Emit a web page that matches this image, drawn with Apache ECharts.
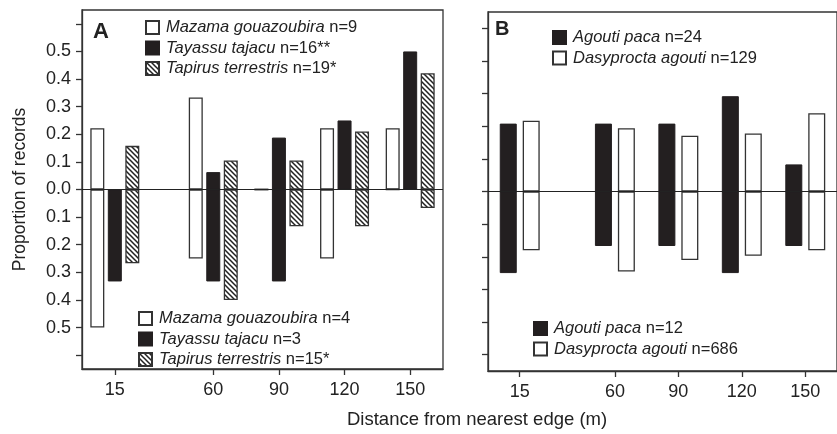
<!DOCTYPE html>
<html>
<head>
  <meta charset="UTF-8" />
  <title></title>
  <style type="text/css">
    * { margin: 0; padding: 0; }
    body { background: #fff; }
    #main { width: 837px; height: 434px; }
  </style>
</head>
<body>
  <div id="main"></div>
</body>
<script src="https://cdn.jsdelivr.net/npm/echarts@6/dist/echarts.min.js"></script>
<script type="text/javascript">
  // distance classes (m)
  let distances = [15, 60, 90, 120, 150]
  let yTicks = [-0.6, -0.5, -0.4, -0.3, -0.2, -0.1, 0, 0.1, 0.2, 0.3, 0.4, 0.5, 0.6]
  let yLabels = [-0.5, -0.4, -0.3, -0.2, -0.1, 0, 0.1, 0.2, 0.3, 0.4, 0.5]
  let yTicksB = [-0.5, -0.4, -0.3, -0.2, -0.1, 0, 0.1, 0.2, 0.3, 0.4, 0.5]

  // panel A, upper (above 0) and lower (below 0) proportions
  let mazamaUp = [0.222, 0.333, 0, 0.222, 0.222]
  let tayassuUp = [0, 0.063, 0.188, 0.25, 0.5]
  let tapirusUp = [0.158, 0.105, 0.105, 0.21, 0.421]
  let mazamaDown = [0.5, 0.25, 0, 0.25, 0]
  let tayassuDown = [0.333, 0.333, 0.333, 0, 0]
  let tapirusDown = [0.267, 0.4, 0.133, 0.133, 0.067]

  // panel B
  let pacaUp = [0.208, 0.208, 0.208, 0.292, 0.083]
  let dasyUp = [0.217, 0.194, 0.171, 0.178, 0.24]
  let pacaDown = [0.25, 0.167, 0.167, 0.25, 0.167]
  let dasyDown = [0.18, 0.245, 0.21, 0.197, 0.18]

  let font = 'Liberation Sans, Arial, sans-serif'
  let ink = '#222'

  // hatch pattern  \\\\
  function hatch() {
    let s = 5
    let c = document.createElement('canvas')
    c.width = s; c.height = s
    let ctx = c.getContext('2d')
    ctx.fillStyle = '#fff'
    ctx.fillRect(0, 0, s, s)
    ctx.strokeStyle = '#222'
    ctx.lineWidth = 1.5
    ctx.beginPath()
    ctx.moveTo(0, 0); ctx.lineTo(s, s)
    ctx.moveTo(-1, s - 1); ctx.lineTo(1, s + 1)
    ctx.moveTo(s - 1, -1); ctx.lineTo(s + 1, 1)
    ctx.stroke()
    return c
  }

  let styles = {
    white: { color: '#fff', borderColor: '#333', borderWidth: 1.3 },
    black: { color: '#231f20', borderColor: '#231f20', borderWidth: 1 },
    hatch: { color: { image: hatch(), repeat: 'repeat' }, borderColor: '#333', borderWidth: 1.3 }
  }

  function pairs(vals, sign) {
    return distances.map((d, i) => [d, sign * vals[i]])
  }

  function bar(name, vals, sign, style, stack, grid, w, gap) {
    return {
      type: 'bar',
      name: name,
      xAxisIndex: grid,
      yAxisIndex: grid,
      stack: stack,
      barWidth: w,
      barGap: gap,
      itemStyle: style,
      data: pairs(vals, sign)
    }
  }

  function legendFormat(name) {
    let i = name.indexOf(' n=')
    return '{a|' + name.slice(0, i) + '}{b|' + name.slice(i) + '}'
  }

  function legend(names, left, top) {
    return {
      data: names,
      orient: 'vertical',
      left: left,
      top: top,
      icon: 'rect',
      itemWidth: 13,
      itemHeight: 13,
      itemGap: 3.5,
      selectedMode: false,
      formatter: legendFormat,
      textStyle: {
        rich: {
          a: { fontFamily: font, fontSize: 16.5, fontStyle: 'italic', color: ink, padding: [0, 0, 0, 2] },
          b: { fontFamily: font, fontSize: 16.5, color: ink }
        }
      }
    }
  }

  let xAxisBase = {
    type: 'value',
    min: 0,
    max: 165,
    axisLine: { show: true, onZero: false, lineStyle: { color: '#333', width: 1.3 } },
    axisTick: { show: true, length: 6, customValues: distances, lineStyle: { color: '#333', width: 1.3 } },
    axisLabel: { customValues: distances, margin: 12, fontFamily: font, fontSize: 18, color: ink },
    splitLine: { show: false }
  }

  function yAxis(labels, ticks, range, name) {
    return {
      type: 'value',
      min: -range,
      max: range,
      name: name,
      nameLocation: 'middle',
      nameGap: 53,
      nameTextStyle: { fontFamily: font, fontSize: 17.5, color: ink },
      axisLine: { show: true, lineStyle: { color: '#333', width: 1.3 } },
      axisTick: { show: true, length: 6, customValues: ticks, lineStyle: { color: '#333', width: 1.3 } },
      axisLabel: {
        show: labels.length > 0,
        customValues: labels,
        margin: 11,
        fontFamily: font,
        fontSize: 18,
        color: ink,
        formatter: v => Math.abs(v).toFixed(1)
      },
      splitLine: { show: false }
    }
  }

  let zeroLine = {
    silent: true,
    symbol: 'none',
    label: { show: false },
    lineStyle: { color: '#222', width: 1, type: 'solid' },
    data: [{ yAxis: 0 }]
  }

  let namesA = ['Mazama gouazoubira n=9', 'Tayassu tajacu n=16**', 'Tapirus terrestris n=19*']
  let namesA2 = ['Mazama gouazoubira n=4', 'Tayassu tajacu n=3', 'Tapirus terrestris n=15*']
  let namesB = ['Agouti paca n=24', 'Dasyprocta agouti n=129']
  let namesB2 = ['Agouti paca n=12', 'Dasyprocta agouti n=686']

  let series = [
    bar(namesA[0], mazamaUp, 1, styles.white, 'maz', 0, 14, '25%'),
    bar(namesA[1], tayassuUp, 1, styles.black, 'tay', 0, 14, '25%'),
    bar(namesA[2], tapirusUp, 1, styles.hatch, 'tap', 0, 14, '25%'),
    bar(namesA2[0], mazamaDown, -1, styles.white, 'maz', 0, 14, '25%'),
    bar(namesA2[1], tayassuDown, -1, styles.black, 'tay', 0, 14, '25%'),
    bar(namesA2[2], tapirusDown, -1, styles.hatch, 'tap', 0, 14, '25%'),
    bar(namesB[0], pacaUp, 1, styles.black, 'paca', 1, 17, '35%'),
    bar(namesB[1], dasyUp, 1, styles.white, 'dasy', 1, 17, '35%'),
    bar(namesB2[0], pacaDown, -1, styles.black, 'paca', 1, 17, '35%'),
    bar(namesB2[1], dasyDown, -1, styles.white, 'dasy', 1, 17, '35%')
  ]
  series[0].markLine = zeroLine
  series[6].markLine = zeroLine

  let myChart = echarts.init(document.getElementById('main'))
  let option = {
    animation: false,
    backgroundColor: '#fff',
    grid: [
      { left: 82, top: 10, width: 361, height: 359, show: true, borderColor: '#333', borderWidth: 1.3 },
      { left: 488, top: 12, width: 361, height: 359, show: true, borderColor: '#333', borderWidth: 1.3 }
    ],
    xAxis: [
      Object.assign({ gridIndex: 0 }, xAxisBase),
      Object.assign({ gridIndex: 1 }, xAxisBase)
    ],
    yAxis: [
      Object.assign({ gridIndex: 0 }, yAxis(yLabels, yTicks, 0.65, 'Proportion of records')),
      Object.assign({ gridIndex: 1 }, yAxis([], yTicksB, 0.55, ''))
    ],
    legend: [
      legend(namesA, 140, 14),
      legend(namesA2, 133, 305),
      legend(namesB, 547, 24),
      legend(namesB2, 528, 315)
    ],
    graphic: [
      { type: 'text', left: 93, top: 21, style: { text: 'A', fontFamily: font, fontSize: 22, fontWeight: 'bold', fill: ink } },
      { type: 'text', left: 495, top: 19, style: { text: 'B', fontFamily: font, fontSize: 20, fontWeight: 'bold', fill: ink } },
      { type: 'text', left: 347, top: 410, style: { text: 'Distance from nearest edge (m)', fontFamily: font, fontSize: 18.5, fill: ink } }
    ],
    series: series
  }
  myChart.setOption(option)
</script>
</html>
